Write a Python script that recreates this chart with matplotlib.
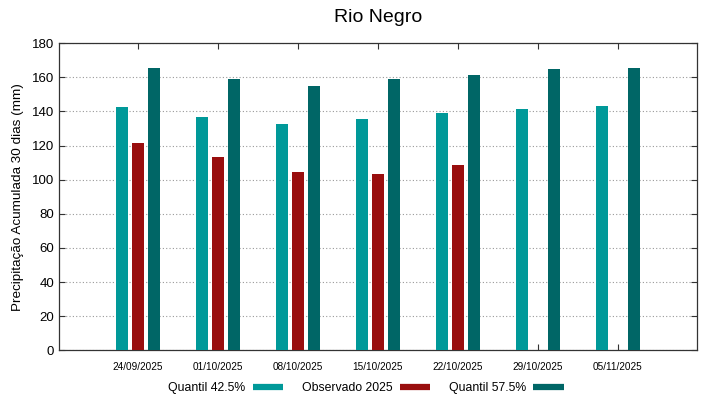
import numpy as np
import matplotlib
matplotlib.use('Agg')
import matplotlib.pyplot as plt
from matplotlib.lines import Line2D

plt.rcParams['font.family'] = ['Liberation Sans', 'DejaVu Sans']

# weekly dates and 30-day accumulated rainfall (mm)
datas      = ['24/09/2025', '01/10/2025', '08/10/2025', '15/10/2025',
              '22/10/2025', '29/10/2025', '05/11/2025']
q425       = [142.7, 136.7, 132.4, 135.7, 139.0, 141.3, 143.1]
observado  = [121.2, 113.2, 104.5, 103.5, 108.6, np.nan, np.nan]
q575       = [165.2, 159.1, 154.8, 159.1, 161.5, 164.8, 165.6]

cor_q425 = '#009999'
cor_obs  = '#990e0e'
cor_q575 = '#006666'

fig = plt.figure(figsize=(7.19, 3.99), dpi=100)
ax = fig.add_axes([0.0821, 0.1216, 0.8873, 0.7706])

x = np.arange(len(datas))
w = 0.155
ax.bar(x - 0.2, q425, w, color=cor_q425, zorder=3)
ax.bar(x, observado, w, color=cor_obs, zorder=3)
ax.bar(x + 0.2, q575, w, color=cor_q575, zorder=3)

ax.set_xlim(-0.99, 6.99)
ax.set_ylim(0, 180)
ax.set_yticks(np.arange(0, 181, 20))
ax.set_xticks(x)
ax.set_xticklabels(datas, fontsize=7.2)
ax.tick_params(axis='y', labelsize=9.5)
ax.tick_params(direction='in', top=True, right=True, length=4, width=0.8, color='#333333')
ax.tick_params(axis='x', pad=8)
ax.grid(axis='y', color='#999999', linestyle=(0, (1, 2)), linewidth=0.8, zorder=0)
for s in ax.spines.values():
    s.set_color('#333333')
    s.set_linewidth(0.9)

ax.set_title('Rio Negro', fontsize=14, pad=15)
ax.set_ylabel('Precipitação Acumulada 30 dias (mm)', fontsize=9.7, labelpad=6)

handles = [Line2D([], [], color=c, lw=4.5, solid_capstyle='butt')
           for c in (cor_q425, cor_obs, cor_q575)]
fig.legend(handles, ['Quantil 42.5%', 'Observado 2025', 'Quantil 57.5%'],
           loc='center', bbox_to_anchor=(0.509, 0.028), ncol=3, frameon=False,
           markerfirst=False, fontsize=8.8, handlelength=2.5, handletextpad=0.6,
           columnspacing=1.5)

fig.savefig('out.png', dpi=100)
